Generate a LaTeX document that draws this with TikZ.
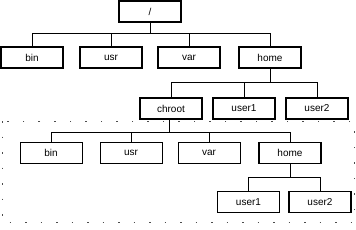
\documentclass[tikz,border=0pt]{standalone}
\usepackage{fontspec}
\setmainfont{Liberation Sans}
\begin{document}
\begin{tikzpicture}[x=1pt,y=-1pt,
  dirbox/.style={draw,line width=1.2pt,minimum width=62pt,minimum height=21pt,inner sep=0pt,font=\fontsize{10}{12}\selectfont},
  thinbox/.style={dirbox,line width=0.7pt},
  conn/.style={line width=1pt},
  frame/.style={draw=black!70,line width=0.8pt,dash pattern=on 1.5pt off 14pt}]
\useasboundingbox (0,0) rectangle (356,230);
\draw[frame] (2,121) rectangle (354,222);
\node[dirbox] (root) at (150,11.5) {/};
\node[dirbox] (bin) at (32,57.5) {bin};
\node[dirbox] (usr) at (111,57.5) {usr};
\node[dirbox] (var) at (189,57.5) {var};
\node[dirbox] (home) at (270,57.5) {home};
\node[dirbox] (chroot) at (171,108.5) {chroot};
\node[dirbox] (u1) at (244,108.5) {user1};
\node[dirbox] (u2) at (317,108.5) {user2};
\node[thinbox] (cbin) at (51,153) {bin};
\node[thinbox] (cusr) at (131,153) {usr};
\node[thinbox] (cvar) at (209,153) {var};
\node[dirbox] (chome) at (290,153) {home};
\node[dirbox] (cu1) at (248.5,202) {user1};
\node[dirbox] (cu2) at (320,202) {user2};
\coordinate (b1) at (150,34);
\coordinate (b2) at (270,82);
\coordinate (b3) at (169,132);
\coordinate (b4) at (290,177);
\draw[conn] (root.south) -- (b1);
\draw[conn] (bin.north) |- (home.north |- b1) -- (home.north);
\draw[conn] (usr.north) -- (usr.north |- b1);
\draw[conn] (var.north) -- (var.north |- b1);
\draw[conn] (home.south) -- (b2);
\draw[conn] (chroot.north) |- (u2.north |- b2) -- (u2.north);
\draw[conn] (u1.north) -- (u1.north |- b2);
\draw[conn] (chroot.south -| b3) -- (b3);
\draw[conn] (cbin.north) |- (chome.north |- b3) -- (chome.north);
\draw[conn] (cusr.north) -- (cusr.north |- b3);
\draw[conn] (cvar.north) -- (cvar.north |- b3);
\draw[conn] (chome.south) -- (b4);
\draw[conn] (cu1.north) |- (cu2.north |- b4) -- (cu2.north);
\end{tikzpicture}
\end{document}
